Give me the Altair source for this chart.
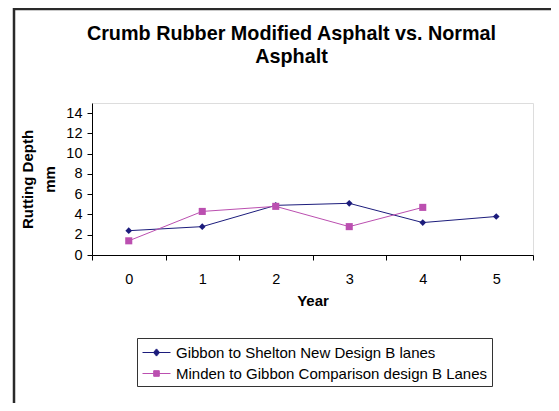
import altair as alt
import pandas as pd

years = ["0", "1", "2", "3", "4", "5"]
gibbon = [2.4, 2.8, 4.9, 5.1, 3.2, 3.8]
minden = [1.4, 4.3, 4.8, 2.8, 4.7, None]
series_names = ["Gibbon to Shelton New Design B lanes",
                "Minden to Gibbon Comparison design B Lanes"]
series_colors = ["#1c1c7c", "#bb4fb0"]
y_ticks = [0, 2, 4, 6, 8, 10, 12, 14]

rows = []
for yr, g, m in zip(years, gibbon, minden):
    rows.append({"year": yr, "series": series_names[0], "value": g})
    if m is not None:
        rows.append({"year": yr, "series": series_names[1], "value": m})
df = pd.DataFrame(rows)

FONT = "Liberation Sans"

x_enc = alt.X("year:O", sort=years,
              scale=alt.Scale(type="band", paddingInner=0, paddingOuter=0),
              axis=alt.Axis(title="Year", labelAngle=0, tickBand="extent",
                            labelFontSize=14.5, titleFontSize=15, titleFontWeight="bold",
                            labelFont=FONT, titleFont=FONT, labelColor="black",
                            titleColor="black", domainColor="black", tickColor="black",
                            tickSize=5, labelPadding=12, titlePadding=8, grid=False))
y_enc = alt.Y("value:Q", scale=alt.Scale(domain=[0, 15], nice=False),
              axis=alt.Axis(title=["Rutting Depth", "mm"], values=y_ticks,
                            labelFontSize=14.5, titleFontSize=15, titleFontWeight="bold",
                            titleLineHeight=22,
                            labelFont=FONT, titleFont=FONT, labelColor="black",
                            titleColor="black", domainColor="black", tickColor="black",
                            tickSize=5, labelPadding=5, titlePadding=8, grid=False))
color_enc = alt.Color("series:N",
                      scale=alt.Scale(domain=series_names, range=series_colors),
                      legend=alt.Legend(
                          title=None, orient="none", legendX=45, legendY=235,
                          labelFont=FONT, labelFontSize=15, labelColor="black",
                          strokeColor="#333333", padding=4, rowPadding=2,
                          symbolOffset=5,
                          symbolSize=400, symbolStrokeWidth=1, labelOffset=9,
                          labelLimit=400))

base = alt.Chart(df)

line = base.mark_line(strokeWidth=1).encode(x=x_enc, y=y_enc, color=color_enc)

pts_g = base.mark_point(shape="diamond", filled=True, size=45, opacity=1).encode(
    x=x_enc, y=y_enc, color=color_enc
).transform_filter(alt.datum.series == series_names[0])

pts_m = base.mark_point(shape="square", filled=True, size=50, opacity=1).encode(
    x=x_enc, y=y_enc, color=color_enc
).transform_filter(alt.datum.series == series_names[1])

path_g = "M-1.4,0L1.4,0M0,-0.36L0.3,0L0,0.36L-0.3,0Z"
path_m = "M-1.4,0L1.4,0M-0.28,-0.28L0.28,-0.28L0.28,0.28L-0.28,0.28Z"
legend_layer = base.mark_point(filled=True, opacity=1).encode(
    x=x_enc, y=y_enc, color=color_enc,
    shape=alt.Shape("series:N",
                    scale=alt.Scale(domain=series_names, range=[path_g, path_m]),
                    legend=alt.Legend(title=None, orient="none", legendX=45, legendY=235))
).transform_filter("false")

border = alt.Chart(pd.DataFrame({"a": [0]})).mark_rect(
    fillOpacity=0, stroke="#2a2a2a", strokeWidth=2.5
).encode(x=alt.value(-78), x2=alt.value(600), y=alt.value(-94), y2=alt.value(400))

chart = alt.layer(border, line, pts_g, pts_m, legend_layer).properties(
    width=441, height=152,
    title=alt.TitleParams(
        text=["Crumb Rubber Modified Asphalt vs. Normal", "Asphalt"],
        font=FONT, fontSize=19.8, fontWeight="bold", color="black",
        anchor="middle", frame="group", baseline="bottom",
        dx=-21, dy=79, offset=0, lineHeight=23),
    padding={"left": 84, "top": 95, "right": 18, "bottom": 148},
    autosize="none",
).configure_view(stroke="#808080", strokeWidth=1).configure(background="white")

chart.save("out.html", embed_options={"renderer": "svg", "actions": False})
